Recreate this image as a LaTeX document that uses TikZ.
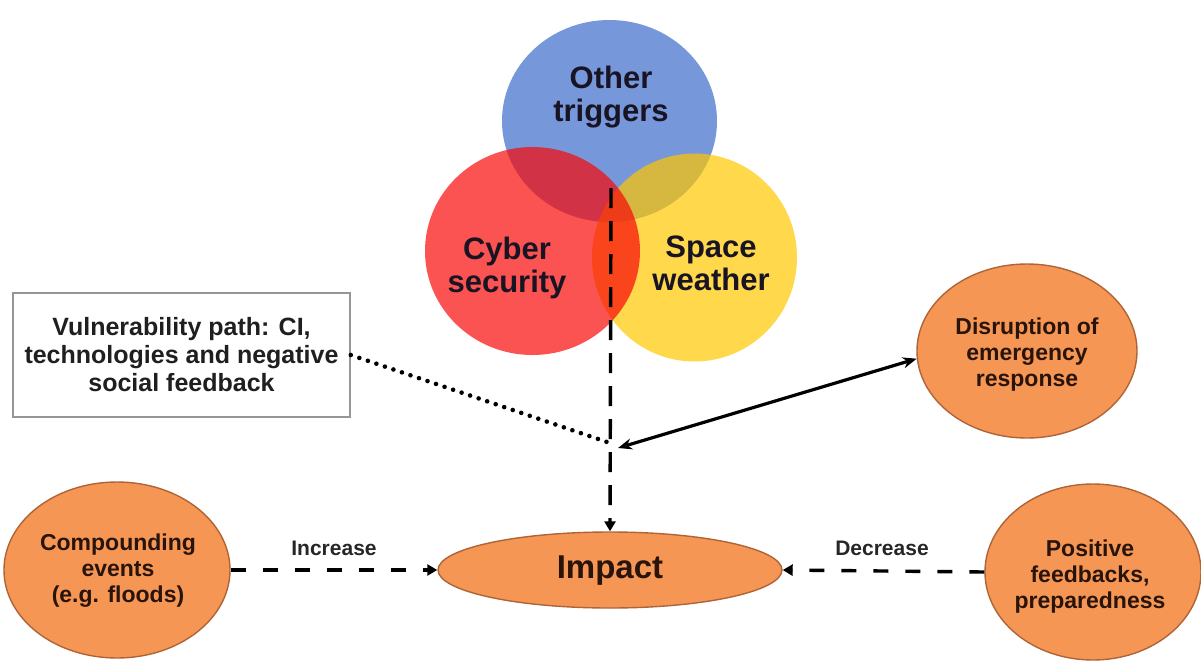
\documentclass[tikz,border=0pt]{standalone}
\usepackage{fontspec}
\setmainfont{Liberation Sans}
\usetikzlibrary{arrows.meta,shapes.geometric}
\definecolor{vblue}{RGB}{118,152,218}
\definecolor{vred}{RGB}{249,8,8}
\definecolor{vyellow}{RGB}{255,199,0}
\definecolor{orangefill}{RGB}{246,150,84}
\definecolor{orangeline}{RGB}{175,100,55}
\definecolor{boxline}{RGB}{150,150,150}
\definecolor{vtext}{RGB}{25,20,35}
\definecolor{otext}{RGB}{40,20,10}
\tikzset{
  venn/.style={ellipse, inner sep=0pt, draw=none},
  venntext/.style={align=center, text=vtext, font=\bfseries\fontsize{15.5}{16.5}\selectfont},
  orangenode/.style={ellipse, inner sep=0pt, fill=orangefill, draw=orangeline, line width=0.7pt},
  orangetext/.style={align=center, text=otext, font=\bfseries\fontsize{11.5}{13}\selectfont},
  hdash/.style={line width=1.7pt, dash pattern=on 7.5pt off 8.5pt, -{Triangle[length=5pt,width=5.5pt]}},
  vdash/.style={line width=1.7pt, dash pattern=on 10pt off 6.5pt, -{Triangle[length=5pt,width=5.5pt]}},
  dotline/.style={line width=2.3pt, line cap=round, dash pattern=on 0pt off 4.5pt},
  solidarrow/.style={line width=1.6pt, {Stealth[length=7pt,width=5.5pt]}-{Stealth[length=7pt,width=5.5pt]}},
  lbl/.style={text=black!85, font=\bfseries\fontsize{10.5}{12}\selectfont}
}
\begin{document}
\begin{tikzpicture}[x=0.5pt,y=-0.5pt]
\useasboundingbox (0,0) rectangle (1201,660);
% Venn circles
\node[venn, fill=vblue, minimum width=107.5pt, minimum height=101pt] (blue) at (609.5,121) {};
\node[venn, fill=vyellow, fill opacity=0.7, minimum width=102.5pt, minimum height=104pt] (yellow) at (694.5,257.5) {};
\node[venn, fill=vred, fill opacity=0.7, minimum width=107.5pt, minimum height=104pt] (red) at (532.5,251) {};
\node[venntext] (tother) at (611,97) {Other\\triggers};
\node[venntext] (tcyber) at (507,268) {Cyber\\security};
\node[venntext] (tspace) at (711,263) {Space\\weather};
% box
\node[draw=boxline, line width=0.8pt, minimum width=168.5pt, minimum height=62pt, inner sep=0pt,
      align=center, text=black!88, font=\bfseries\fontsize{12.5}{14}\selectfont] (box) at (181.5,355)
      {Vulnerability path: CI,\\technologies and negative\\social feedback};
% orange nodes
\node[orangenode, minimum width=172pt, minimum height=38pt] (imp) at (610,570) {};
\node[text=otext, font=\bfseries\fontsize{16.5}{18}\selectfont] (timp) at (610,571) {Impact};
\node[orangenode, minimum width=113pt, minimum height=88pt] (comp) at (117,570) {};
\node[orangetext] (tcomp) at (118,571) {Compounding\\events\\(e.g. floods)};
\node[orangenode, minimum width=110pt, minimum height=87pt] (dis) at (1027,351) {};
\node[orangetext] (tdis) at (1027,355) {Disruption of\\emergency\\response};
\node[orangenode, minimum width=108pt, minimum height=88pt] (pos) at (1093,572) {};
\node[orangetext] (tpos) at (1090,577) {Positive\\feedbacks,\\preparedness};
% connectors
\coordinate (vtop) at (611,188);
\coordinate (jdot) at (607,442);
\coordinate (jarr) at (618,448);
\draw[vdash] (vtop) -- (imp.north);
\draw[dotline] (box.east) -- (jdot);
\draw[solidarrow] (jarr) -- (dis.184);
\draw[hdash] (comp.east) -- (imp.west);
\draw[hdash] (pos.west) -- (imp.east);
\node[lbl] (linc) at (334,548) {Increase};
\node[lbl] (ldec) at (882,548) {Decrease};
\end{tikzpicture}
\end{document}
